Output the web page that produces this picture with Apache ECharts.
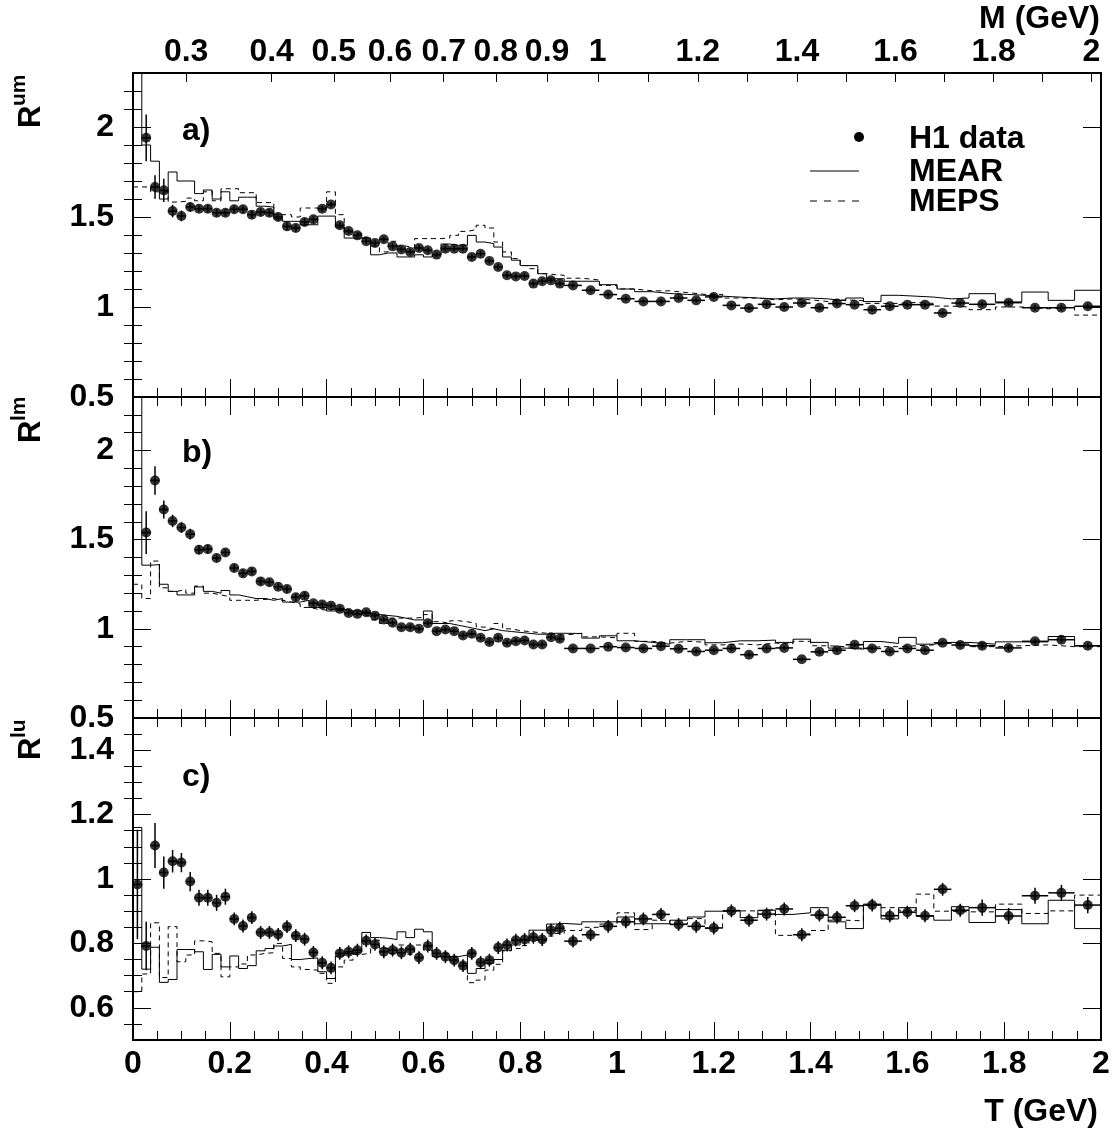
<!DOCTYPE html>
<html>
<head>
<meta charset="utf-8">
<script src="https://cdn.jsdelivr.net/npm/echarts@6/dist/echarts.min.js"></script>
<style>
html, body { margin: 0; padding: 0; background: #fff; }
#main { width: 1115px; height: 1137px; }
</style>
</head>
<body>
<div id="main"></div>
<script>
// binning in T: 49 bins of 2/110, then 23 bins of double width, then 5 of triple width
var BASE_BIN = 2 / 110;
var binGroups = [[49, 1], [23, 2], [5, 3]];

// top axis: invariant mass M, mapped onto T = sqrt(M^2 - 4 m_pi^2)
var PION_MASS = 0.1396;
var mTicks = [0.3, 0.4, 0.5, 0.6, 0.7, 0.8, 0.9, 1.0, 1.1, 1.2, 1.3, 1.4, 1.5, 1.6, 1.7, 1.8, 1.9, 2.0];
var mLabels = [0.3, 0.4, 0.5, 0.6, 0.7, 0.8, 0.9, 1, 1.2, 1.4, 1.6, 1.8, 2];

// a) R^um
var dataA = [null, 1.94, 1.667, 1.648, 1.533, 1.506, 1.556, 1.546, 1.546, 1.524,
  1.524, 1.543, 1.543, 1.513, 1.528, 1.524, 1.50, 1.448, 1.439, 1.472,
  1.487, 1.546, 1.569, 1.454, 1.422, 1.398, 1.365, 1.356, 1.376, 1.337,
  1.32, 1.306, 1.328, 1.315, 1.291, 1.324, 1.324, 1.324, 1.278, 1.296,
  1.256, 1.222, 1.176, 1.170, 1.172, 1.13, 1.143, 1.148, 1.13,
  1.12, 1.093, 1.069, 1.046, 1.031, 1.031, 1.05, 1.037, 1.056, 1.009,
  0.994, 1.015, 1.0, 1.022, 0.996, 1.019, 1.013, 0.985, 1.004, 1.013,
  1.013, 0.967, 1.022,
  1.015, 1.024, 0.996, 0.996, 1.004];
var errA = [0, 0.13, 0.065, 0.065, 0.035, 0.03, 0.025, 0.02, 0.02, 0.02,
  0.02, 0.02, 0.02, 0.02, 0.02, 0.02, 0.02, 0.02, 0.02, 0.02,
  0.02, 0.015, 0.015, 0.015, 0.015, 0.015, 0.015, 0.015, 0.015, 0.015,
  0.015, 0.015, 0.015, 0.015, 0.015, 0.015, 0.015, 0.015, 0.015, 0.015,
  0.015, 0.015, 0.015, 0.015, 0.015, 0.015, 0.015, 0.015, 0.015,
  0.012, 0.012, 0.012, 0.012, 0.012, 0.012, 0.012, 0.012, 0.012, 0.012,
  0.012, 0.012, 0.012, 0.012, 0.012, 0.012, 0.012, 0.012, 0.012, 0.012,
  0.012, 0.012, 0.012,
  0.015, 0.015, 0.015, 0.015, 0.015];
var mearA = [2.45, 1.90, 1.81, 1.60, 1.75, 1.70, 1.70, 1.63, 1.65, 1.60,
  1.64, 1.59, 1.61, 1.61, 1.56, 1.555, 1.49, 1.476, 1.476, 1.457,
  1.457, 1.505, 1.505, 1.444, 1.383, 1.383, 1.383, 1.29, 1.30, 1.30,
  1.278, 1.278, 1.29, 1.278, 1.29, 1.35, 1.343, 1.343, 1.398, 1.361,
  1.352, 1.333, 1.278, 1.26, 1.23, 1.23, 1.185, 1.157, 1.157,
  1.143, 1.143, 1.124, 1.10, 1.085, 1.075, 1.07, 1.065, 1.06, 1.055,
  1.05, 1.045, 1.05, 1.05, 1.045, 1.035, 1.05, 1.03, 1.065, 1.06,
  1.055, 1.045, 1.05,
  1.074, 1.028, 1.083, 1.037, 1.093];
var mepsA = [1.667, 1.667, 1.64, 1.64, 1.583, 1.587, 1.605, 1.59, 1.64, 1.59,
  1.657, 1.657, 1.635, 1.635, 1.58, 1.58, 1.513, 1.513, 1.50, 1.55,
  1.55, 1.55, 1.64, 1.513, 1.417, 1.407, 1.383, 1.339, 1.306, 1.365,
  1.339, 1.328, 1.38, 1.38, 1.38, 1.383, 1.398, 1.42, 1.43, 1.454,
  1.439, 1.361, 1.306, 1.269, 1.23, 1.213, 1.185, 1.18, 1.176,
  1.16, 1.15, 1.12, 1.10, 1.09, 1.09, 1.08, 1.07, 1.07, 1.05,
  1.05, 1.04, 1.045, 1.04, 1.03, 1.04, 1.035, 1.02, 1.02, 1.025,
  1.02, 1.005, 1.0,
  0.985, 1.0, 0.99, 1.0, 0.955];

// b) R^lm
var dataB = [null, 1.54, 1.832, 1.669, 1.605, 1.568, 1.531, 1.443, 1.447, 1.397,
  1.428, 1.341, 1.311, 1.322, 1.266, 1.261, 1.236, 1.223, 1.177, 1.186,
  1.143, 1.136, 1.13, 1.112, 1.089, 1.084, 1.093, 1.074, 1.052, 1.034,
  1.009, 1.009, 1.0, 1.032, 0.987, 0.996, 0.987, 0.963, 0.972, 0.95,
  0.926, 0.95, 0.922, 0.931, 0.935, 0.912, 0.912, 0.953, 0.944,
  0.89, 0.89, 0.90, 0.895, 0.89, 0.903, 0.888, 0.873, 0.88, 0.89,
  0.855, 0.89, 0.893, 0.829, 0.871, 0.88, 0.911, 0.89, 0.873, 0.89,
  0.88, 0.922, 0.909,
  0.905, 0.893, 0.93, 0.939, 0.905];
var errB = [0, 0.12, 0.08, 0.05, 0.035, 0.03, 0.03, 0.025, 0.025, 0.02,
  0.02, 0.02, 0.02, 0.02, 0.02, 0.02, 0.02, 0.02, 0.02, 0.02,
  0.015, 0.015, 0.015, 0.015, 0.015, 0.015, 0.015, 0.015, 0.015, 0.015,
  0.015, 0.015, 0.015, 0.015, 0.015, 0.015, 0.015, 0.015, 0.015, 0.015,
  0.015, 0.015, 0.015, 0.015, 0.015, 0.015, 0.015, 0.015, 0.015,
  0.012, 0.012, 0.012, 0.012, 0.012, 0.012, 0.012, 0.012, 0.012, 0.012,
  0.012, 0.012, 0.012, 0.012, 0.012, 0.012, 0.012, 0.012, 0.012, 0.012,
  0.012, 0.012, 0.012,
  0.015, 0.015, 0.015, 0.015, 0.015];
var mearB = [2.4, 1.357, 1.36, 1.25, 1.21, 1.19, 1.19, 1.235, 1.21, 1.20,
  1.215, 1.19, 1.18, 1.17, 1.17, 1.16, 1.17, 1.15, 1.15, 1.16,
  1.12, 1.12, 1.10, 1.11, 1.10, 1.10, 1.085, 1.08, 1.075, 1.07,
  1.06, 1.05, 1.05, 1.10, 1.03, 1.03, 1.02, 1.01, 1.0, 0.99,
  1.0, 0.99, 0.985, 0.98, 0.975, 0.97, 0.97, 0.975, 0.975,
  0.974, 0.948, 0.961, 0.933, 0.924, 0.914, 0.939, 0.939, 0.922, 0.933,
  0.933, 0.937, 0.924, 0.942, 0.924, 0.892, 0.886, 0.929, 0.918, 0.952,
  0.914, 0.924, 0.924,
  0.914, 0.927, 0.927, 0.957, 0.905];
var mepsB = [1.25, 1.17, 1.38, 1.23, 1.21, 1.22, 1.20, 1.24, 1.20, 1.19,
  1.18, 1.16, 1.16, 1.16, 1.165, 1.17, 1.16, 1.15, 1.14, 1.12,
  1.11, 1.105, 1.11, 1.10, 1.09, 1.08, 1.07, 1.05, 1.03, 1.06,
  1.06, 1.06, 1.065, 1.08, 1.04, 1.03, 1.045, 1.04, 1.03, 1.01,
  1.0, 1.03, 1.0, 0.99, 0.985, 0.98, 0.975, 0.97, 0.965,
  0.975, 0.955, 0.95, 0.975, 0.93, 0.92, 0.93, 0.925, 0.91, 0.915,
  0.91, 0.92, 0.915, 0.93, 0.905, 0.90, 0.89, 0.90, 0.90, 0.905,
  0.91, 0.92, 0.915,
  0.90, 0.905, 0.91, 0.90, 0.90];

// c) R^lu
var dataC = [0.983, 0.792, 1.104, 1.02, 1.055, 1.051, 0.992, 0.942, 0.942, 0.926,
  0.945, 0.876, 0.854, 0.88, 0.834, 0.834, 0.828, 0.852, 0.824, 0.813,
  0.772, 0.74, 0.724, 0.769, 0.774, 0.779, 0.808, 0.797, 0.774, 0.779,
  0.771, 0.782, 0.756, 0.792, 0.769, 0.759, 0.748, 0.731, 0.769, 0.741,
  0.748, 0.787, 0.795, 0.81, 0.812, 0.819, 0.812, 0.841, 0.847,
  0.807, 0.827, 0.853, 0.867, 0.876, 0.89, 0.859, 0.853, 0.848, 0.901,
  0.872, 0.891, 0.907, 0.827, 0.888, 0.881, 0.917, 0.919, 0.886, 0.897,
  0.886, 0.968, 0.903,
  0.911, 0.885, 0.948, 0.957, 0.919];
var errC = [0.17, 0.075, 0.07, 0.05, 0.035, 0.03, 0.03, 0.025, 0.025, 0.025,
  0.025, 0.02, 0.02, 0.02, 0.02, 0.02, 0.02, 0.02, 0.02, 0.02,
  0.02, 0.02, 0.02, 0.02, 0.02, 0.02, 0.02, 0.02, 0.02, 0.02,
  0.02, 0.02, 0.02, 0.02, 0.02, 0.02, 0.02, 0.02, 0.02, 0.02,
  0.02, 0.02, 0.02, 0.02, 0.02, 0.02, 0.02, 0.02, 0.02,
  0.02, 0.02, 0.02, 0.02, 0.02, 0.02, 0.02, 0.02, 0.02, 0.02,
  0.02, 0.02, 0.02, 0.02, 0.02, 0.02, 0.02, 0.02, 0.02, 0.02,
  0.02, 0.02, 0.02,
  0.025, 0.025, 0.025, 0.025, 0.025];
var mearC = [1.16, 0.72, 0.788, 0.679, 0.688, 0.781, 0.781, 0.774, 0.719, 0.766,
  0.727, 0.761, 0.722, 0.731, 0.777, 0.784, 0.792, 0.797, 0.75, 0.753,
  0.755, 0.712, 0.691, 0.761, 0.769, 0.774, 0.834, 0.818, 0.816, 0.812,
  0.836, 0.818, 0.844, 0.836, 0.759, 0.759, 0.759, 0.764, 0.707, 0.722,
  0.738, 0.75, 0.779, 0.795, 0.81, 0.841, 0.841, 0.86, 0.862,
  0.859, 0.867, 0.867, 0.882, 0.861, 0.861, 0.872, 0.882, 0.90, 0.903,
  0.88, 0.903, 0.89, 0.895, 0.911, 0.867, 0.846, 0.922, 0.876, 0.911,
  0.884, 0.872, 0.914,
  0.865, 0.905, 0.861, 0.934, 0.846];
var mepsC = [0.65, 0.705, 0.864, 0.694, 0.852, 0.743, 0.764, 0.808, 0.805, 0.769,
  0.696, 0.727, 0.736, 0.764, 0.769, 0.771, 0.80, 0.753, 0.727, 0.719,
  0.717, 0.707, 0.676, 0.727, 0.748, 0.766, 0.769, 0.81, 0.785, 0.769,
  0.795, 0.766, 0.795, 0.779, 0.769, 0.767, 0.746, 0.738, 0.678, 0.686,
  0.717, 0.735, 0.777, 0.784, 0.793, 0.81, 0.81, 0.823, 0.831,
  0.84, 0.85, 0.86, 0.895, 0.843, 0.872, 0.86, 0.877, 0.846, 0.901,
  0.901, 0.905, 0.825, 0.83, 0.84, 0.872, 0.87, 0.92, 0.911, 0.903,
  0.953, 0.90, 0.898,
  0.898, 0.922, 0.893, 0.901, 0.95];

var panels = [
  { data: dataA, err: errA, mear: mearA, meps: mepsA, yMin: 0.5, yMax: 2.3,
    major: [0.5, 1, 1.5, 2], minor: [0.6, 0.7, 0.8, 0.9, 1.1, 1.2, 1.3, 1.4, 1.6, 1.7, 1.8, 1.9, 2.1, 2.2],
    tag: 'a)', sup: 'um' },
  { data: dataB, err: errB, mear: mearB, meps: mepsB, yMin: 0.5, yMax: 2.3,
    major: [0.5, 1, 1.5, 2], minor: [0.6, 0.7, 0.8, 0.9, 1.1, 1.2, 1.3, 1.4, 1.6, 1.7, 1.8, 1.9, 2.1, 2.2],
    tag: 'b)', sup: 'lm' },
  { data: dataC, err: errC, mear: mearC, meps: mepsC, yMin: 0.5, yMax: 1.5,
    major: [0.6, 0.8, 1, 1.2, 1.4], minor: [0.55, 0.65, 0.7, 0.75, 0.85, 0.9, 0.95, 1.05, 1.1, 1.15, 1.25, 1.3, 1.35, 1.45],
    tag: 'c)', sup: 'lu' }
];

var gridTops = [73, 397, 718];
var gridHeights = [324, 321, 322];
var FONT = 'Liberation Sans, Arial, Helvetica, sans-serif';

var edges = [0];
binGroups.forEach(function (g) {
  for (var n = 0; n < g[0]; n++) edges.push(edges[edges.length - 1] + g[1] * BASE_BIN);
});

function mToT(m) { return Math.sqrt(m * m - 4 * PION_MASS * PION_MASS); }

var labelStyle = { color: '#000', fontFamily: FONT, fontWeight: 'bold', fontSize: 32 };
var axisLineStyle = { show: true, onZero: false, lineStyle: { color: '#000', width: 2 } };

var grids = [], xAxes = [], yAxes = [], series = [], graphics = [];

panels.forEach(function (p, k) {
  grids.push({ left: 133, right: 14, top: gridTops[k], height: gridHeights[k], outerBoundsMode: 'none' });

  // bottom T axis
  xAxes.push({
    type: 'value', gridIndex: k, position: 'bottom', min: 0, max: 2, interval: 0.2,
    axisLine: axisLineStyle,
    axisTick: { show: true, inside: true, length: 18, lineStyle: { color: '#000', width: 1 } },
    minorTick: { show: true, splitNumber: 4, length: 9, lineStyle: { color: '#000', width: 1 } },
    axisLabel: k === 2 ? Object.assign({ show: true, margin: 8 }, labelStyle) : { show: false },
    splitLine: { show: false },
    name: k === 2 ? 'T (GeV)' : '',
    nameLocation: 'end', nameGap: -3,
    nameTextStyle: Object.assign({ align: 'right', verticalAlign: 'top', padding: [56, 0, 0, 0] }, labelStyle)
  });
  // top axis
  if (k === 0) {
    xAxes.push({
      type: 'value', gridIndex: k, position: 'top', min: 0, max: 2,
      axisLine: axisLineStyle,
      axisTick: { show: true, inside: true, length: 9, customValues: mTicks.map(mToT),
        lineStyle: { color: '#000', width: 1 } },
      axisLabel: Object.assign({
        show: true, margin: 5, customValues: mLabels.map(mToT),
        formatter: function (v) {
          for (var i = 0; i < mLabels.length; i++) {
            if (Math.abs(mToT(mLabels[i]) - v) < 1e-6) return String(mLabels[i]);
          }
          return '';
        }
      }, labelStyle),
      splitLine: { show: false }
    });
  } else {
    xAxes.push({
      type: 'value', gridIndex: k, position: 'top', min: 0, max: 2, interval: 0.2,
      axisLine: axisLineStyle,
      axisTick: { show: true, inside: true, length: 18, lineStyle: { color: '#000', width: 1 } },
      minorTick: { show: true, splitNumber: 4, length: 9, lineStyle: { color: '#000', width: 1 } },
      axisLabel: { show: false }, splitLine: { show: false }
    });
  }

  ['left', 'right'].forEach(function (side) {
    yAxes.push({
      type: 'value', gridIndex: k, position: side, min: p.yMin, max: p.yMax,
      axisLine: axisLineStyle,
      axisTick: { show: true, inside: true, length: 18, customValues: p.major,
        lineStyle: { color: '#000', width: 1 } },
      axisLabel: side === 'left'
        ? Object.assign({ show: true, margin: 19, customValues: p.major }, labelStyle)
        : { show: false },
      splitLine: { show: false }
    });
    yAxes.push({
      type: 'value', gridIndex: k, position: side, min: p.yMin, max: p.yMax,
      axisLine: { show: false },
      axisTick: { show: true, inside: true, length: 9, customValues: p.minor,
        lineStyle: { color: '#000', width: 1 } },
      axisLabel: { show: false },
      splitLine: { show: false }
    });
  });

  var xi = 2 * k, yi = 4 * k;

  function histData(vals) {
    var out = vals.map(function (v, i) { return [edges[i], v]; });
    out.push([edges[edges.length - 1], vals[vals.length - 1]]);
    return out;
  }

  series.push({
    name: 'MEAR', type: 'line', step: 'end', xAxisIndex: xi, yAxisIndex: yi,
    data: histData(p.mear), symbol: 'none', clip: true, animation: false,
    lineStyle: { color: '#000', width: 1 }
  });
  series.push({
    name: 'MEPS', type: 'line', step: 'end', xAxisIndex: xi, yAxisIndex: yi,
    data: histData(p.meps), symbol: 'none', clip: true, animation: false,
    lineStyle: { color: '#000', width: 1, type: [5, 4] }
  });

  var pts = [], bars = [];
  p.data.forEach(function (v, i) {
    if (v == null) return;
    var c = (edges[i] + edges[i + 1]) / 2;
    pts.push([c, v]);
    bars.push([edges[i], edges[i + 1], v - p.err[i], v + p.err[i], c, v]);
  });

  series.push({
    name: 'H1 data errors', type: 'custom', xAxisIndex: xi, yAxisIndex: yi,
    data: bars, clip: true, animation: false,
    encode: { x: [0, 1, 4], y: [2, 3, 5] },
    renderItem: function (params, api) {
      var l = api.coord([api.value(0), api.value(5)]);
      var r = api.coord([api.value(1), api.value(5)]);
      var t = api.coord([api.value(4), api.value(3)]);
      var b = api.coord([api.value(4), api.value(2)]);
      return {
        type: 'group', children: [
          { type: 'line', shape: { x1: l[0], y1: l[1], x2: r[0], y2: r[1] }, style: { stroke: '#000', lineWidth: 1.5 } },
          { type: 'line', shape: { x1: t[0], y1: t[1], x2: b[0], y2: b[1] }, style: { stroke: '#000', lineWidth: 1.5 } }
        ]
      };
    }
  });
  series.push({
    name: 'H1 data', type: 'scatter', xAxisIndex: xi, yAxisIndex: yi,
    data: pts, symbol: 'circle', symbolSize: 10, animation: false,
    itemStyle: { color: '#000' }
  });

  // panel tag and rotated axis title R^xx
  var labelY = [131, 453, 777][k];
  graphics.push({ type: 'text', x: 182, y: labelY,
    style: { text: p.tag, font: 'bold 32px ' + FONT, fill: '#000', verticalAlign: 'middle' } });
  var rStart = [128, 443, 760][k];
  graphics.push({ type: 'text', x: 31, y: rStart, rotation: Math.PI / 2,
    style: { text: 'R', font: 'bold 31px ' + FONT, fill: '#000', align: 'left', verticalAlign: 'middle' } });
  graphics.push({ type: 'text', x: 19, y: rStart - 22, rotation: Math.PI / 2,
    style: { text: p.sup, font: 'bold 21px ' + FONT, fill: '#000', align: 'left', verticalAlign: 'middle' } });
});

// top axis title
graphics.push({ type: 'text', x: 1100, y: 19,
  style: { text: 'M (GeV)', font: 'bold 32px ' + FONT, fill: '#000', align: 'right', verticalAlign: 'middle' } });

// legend
graphics.push({ type: 'circle', shape: { cx: 859, cy: 137, r: 5 }, style: { fill: '#000' } });
graphics.push({ type: 'line', shape: { x1: 810, y1: 171, x2: 859, y2: 171 }, style: { stroke: '#000', lineWidth: 1 } });
graphics.push({ type: 'line', shape: { x1: 810, y1: 201, x2: 859, y2: 201 }, style: { stroke: '#000', lineWidth: 1, lineDash: [7, 7] } });
[['H1 data', 139], ['MEAR', 172], ['MEPS', 202]].forEach(function (t) {
  graphics.push({ type: 'text', x: 909, y: t[1],
    style: { text: t[0], font: 'bold 32px ' + FONT, fill: '#000', verticalAlign: 'middle' } });
});

var chart = echarts.init(document.getElementById('main'));
chart.setOption({
  backgroundColor: '#fff',
  animation: false,
  grid: grids,
  xAxis: xAxes,
  yAxis: yAxes,
  series: series,
  graphic: graphics
});
</script>
</body>
</html>
